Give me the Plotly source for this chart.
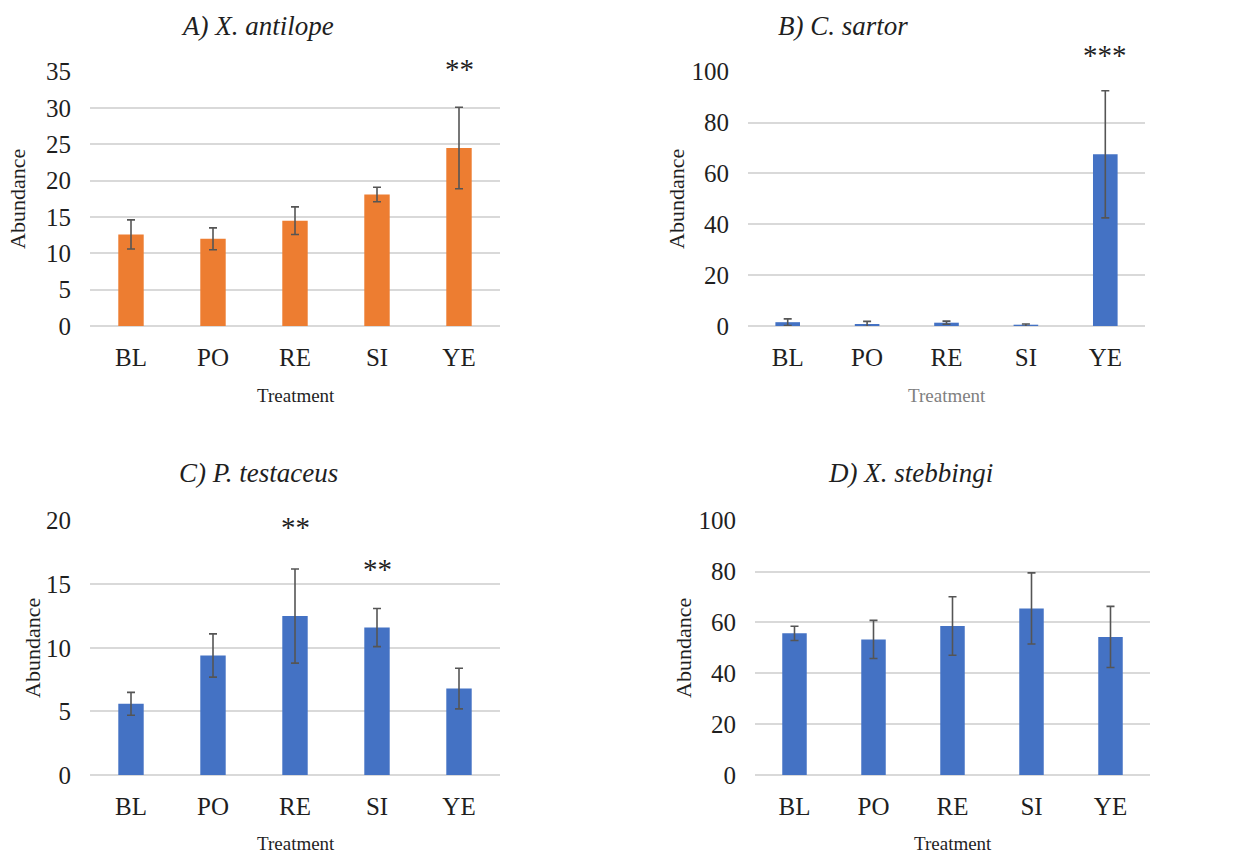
import plotly.graph_objects as go

treatments = ["BL", "PO", "RE", "SI", "YE"]

antilope_mean = [12.6, 12.0, 14.5, 18.1, 24.5]
antilope_err = [2.0, 1.5, 1.9, 1.0, 5.6]

sartor_mean = [1.5, 0.8, 1.3, 0.3, 67.5]
sartor_err = [1.3, 1.0, 0.6, 0.5, 25.0]

testaceus_mean = [5.6, 9.4, 12.5, 11.6, 6.8]
testaceus_err = [0.9, 1.7, 3.7, 1.5, 1.6]

stebbingi_mean = [55.7, 53.3, 58.6, 65.5, 54.3]
stebbingi_err = [2.8, 7.5, 11.5, 14.0, 12.0]

titles = ["A) X. antilope", "B) C. sartor", "C) P. testaceus", "D) X. stebbingi"]

# significance markers: (panel, category, label)
stars = [(0, "YE", "**"), (1, "YE", "***"), (2, "RE", "**"), (2, "SI", "**")]
star_pos = [1.02, 1.072, 0.983, 0.819]  # fraction of panel height

W, H = 1253, 855
FONT = "Liberation Serif, Times New Roman, serif"
ORANGE = "#ED7D31"
BLUE = "#4472C4"
GRID = "#d9d9d9"
ERR = "#555555"
TXT = "#1f1f1f"

def px_x(p):
    return p / W

def px_y(p):
    return 1 - p / H

# panel geometry in pixels: (x0, x1, ytop, ybottom)
panels = [
    (90, 500, 71.7, 326),
    (748, 1145, 71.7, 326),
    (90, 500, 520.7, 775),
    (755, 1150, 520.7, 775),
]
series = [
    (antilope_mean, antilope_err, ORANGE, [0, 35], 5),
    (sartor_mean, sartor_err, BLUE, [0, 100], 20),
    (testaceus_mean, testaceus_err, BLUE, [0, 20], 5),
    (stebbingi_mean, stebbingi_err, BLUE, [0, 100], 20),
]
title_pos = [(257, 26), (843, 26), (258, 473), (910, 473)]
ylab_pos = [(17, 199), (676, 199), (32, 648), (683, 648)]
xlab_pos = [(296, 395), (947, 395), (296, 843), (953, 843)]
xlab_col = [TXT, "#7f7f7f", TXT, TXT]

fig = go.Figure()
annotations = []
layout = {}
for i, (geom, ser) in enumerate(zip(panels, series)):
    x0, x1, yt, yb = geom
    mean, err, col, rng, dt = ser
    sfx = "" if i == 0 else str(i + 1)
    fig.add_trace(go.Bar(
        x=treatments, y=mean, marker_color=col, marker_line_width=0,
        error_y=dict(type="data", array=err, color=ERR, thickness=1.6, width=4),
        xaxis="x" + sfx, yaxis="y" + sfx, showlegend=False,
    ))
    layout["xaxis" + sfx] = dict(
        domain=[px_x(x0), px_x(x1)], anchor="y" + sfx, type="category",
        showgrid=False, showline=False, zeroline=False, ticks="", automargin=False,
        tickfont=dict(family=FONT, size=25, color=TXT), ticklabelstandoff=14,
    )
    layout["yaxis" + sfx] = dict(
        domain=[px_y(yb), px_y(yt)], anchor="x" + sfx, range=rng, dtick=dt,
        showgrid=True, gridcolor=GRID, gridwidth=1.6, zeroline=True, automargin=False,
        zerolinecolor=GRID, zerolinewidth=1.6, showline=False, ticks="",
        tickfont=dict(family=FONT, size=25, color=TXT), ticklabelstandoff=18,
    )
    tx, ty = title_pos[i]
    annotations.append(dict(text="<i>" + titles[i] + "</i>", x=px_x(tx), y=px_y(ty),
                            xref="paper", yref="paper", showarrow=False,
                            xanchor="center", yanchor="middle",
                            font=dict(family=FONT, size=27, color=TXT)))
    lx, ly = ylab_pos[i]
    annotations.append(dict(text="Abundance", x=px_x(lx), y=px_y(ly),
                            xref="paper", yref="paper", showarrow=False, textangle=-90,
                            xanchor="center", yanchor="middle",
                            font=dict(family=FONT, size=22, color=TXT)))
    bx, by = xlab_pos[i]
    annotations.append(dict(text="Treatment", x=px_x(bx), y=px_y(by),
                            xref="paper", yref="paper", showarrow=False,
                            xanchor="center", yanchor="middle",
                            font=dict(family=FONT, size=19, color=xlab_col[i])))

for (p, cat, lab), yf in zip(stars, star_pos):
    sfx = "" if p == 0 else str(p + 1)
    annotations.append(dict(text=lab, x=cat, y=yf, xref="x" + sfx, yref="y" + sfx + " domain",
                            showarrow=False, xanchor="center", yanchor="middle", yshift=-2,
                            font=dict(family=FONT, size=29, color=TXT)))

fig.update_layout(
    width=W, height=H, margin=dict(l=0, r=0, t=0, b=0, autoexpand=False),
    paper_bgcolor="white", plot_bgcolor="white",
    bargap=0.69, annotations=annotations, **layout,
)
fig.write_html("out.html", config={"displayModeBar": False},
               post_script="document.body.style.margin='0px';document.body.style.padding='0px';")
